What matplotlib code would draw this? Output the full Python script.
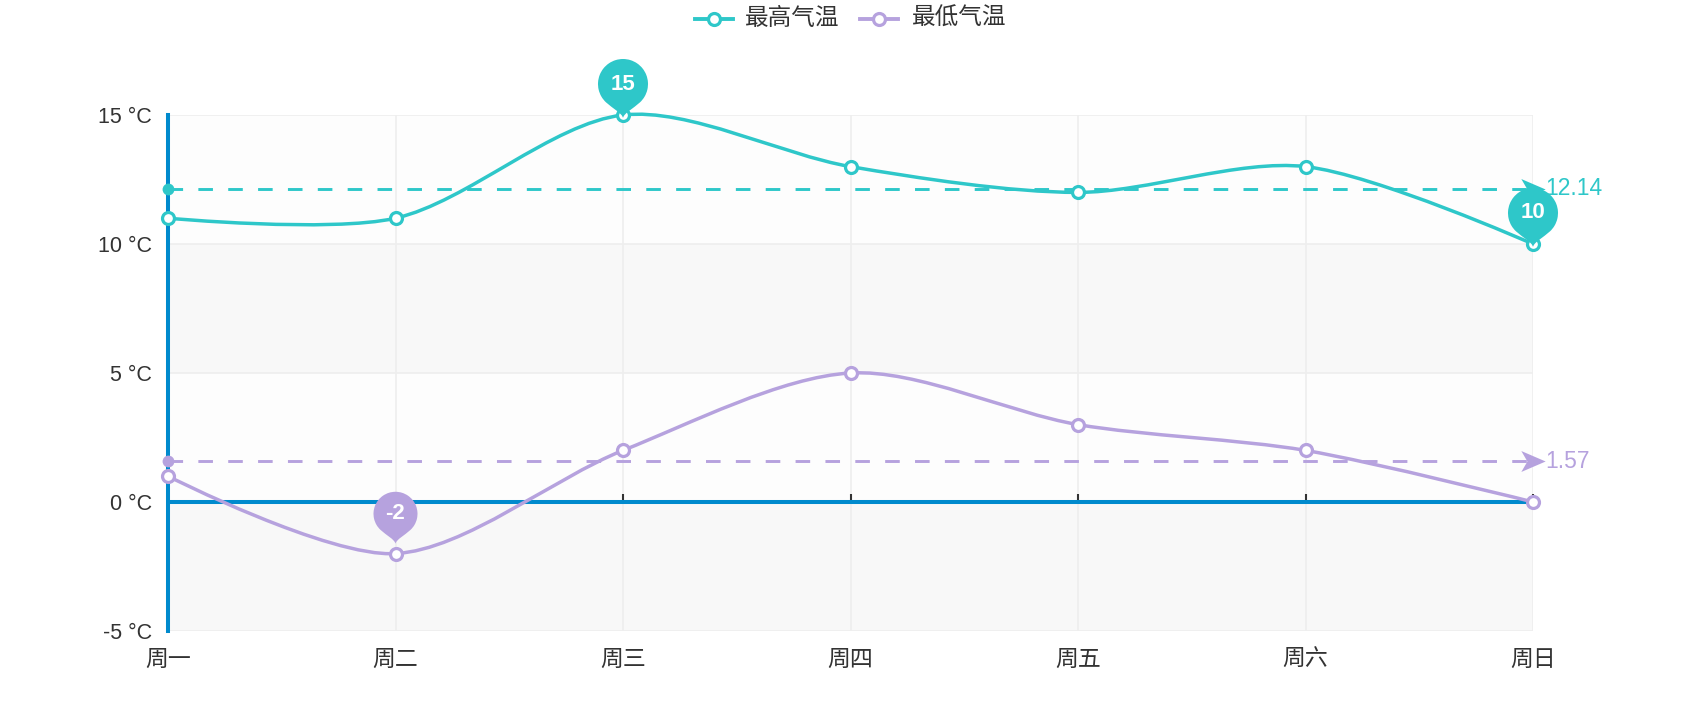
import numpy as np
import matplotlib
matplotlib.use('Agg')
import matplotlib.pyplot as plt
from matplotlib.path import Path
from matplotlib.patches import PathPatch
import matplotlib.lines as mlines

plt.rcParams['font.family'] = ['Liberation Sans', 'Noto Sans CJK SC', 'DejaVu Sans']
plt.rcParams['lines.scale_dashes'] = False

# ---------------- data ----------------
days = ['周一', '周二', '周三', '周四', '周五', '周六', '周日']
series_names = ['最高气温', '最低气温']
high_temp = [11, 11, 15, 13, 12, 13, 10]
low_temp = [1, -2, 2, 5, 3, 2, 0]
y_ticks = [-5, 0, 5, 10, 15]
y_tick_labels = ['-5 °C', '0 °C', '5 °C', '10 °C', '15 °C']
# custom mark point of the low series: (category index, anchor y, shown value)
low_pin = (1, -1.5, -2)

TEAL = '#2ec7c9'
PURPLE = '#b6a2de'
AXIS = '#008acd'
TXT = '#333333'
GRID = '#eeeeee'

W, H = 1686, 706
fig = plt.figure(figsize=(W / 100, H / 100), dpi=100)
ax = fig.add_axes([168 / W, 1 - 631 / H, (1533 - 168) / W, (631 - 115) / H])
x = np.arange(len(days))
ax.set_xlim(0, len(days) - 1)
ax.set_ylim(-5, 15)

# split areas
band_cols = ['#f8f8f8', '#fdfdfd']
for i in range(len(y_ticks) - 1):
    ax.axhspan(y_ticks[i], y_ticks[i + 1], color=band_cols[i % 2], lw=0, zorder=0)

# grid
for xi in x[1:]:
    ax.axvline(xi, color=GRID, lw=1.2, zorder=0.5)
for yv in y_ticks:
    if yv != 0:
        ax.axhline(yv, color=GRID, lw=1.2, zorder=0.5)

for s in ['top', 'right', 'bottom']:
    ax.spines[s].set_visible(False)
ax.spines['left'].set_color(AXIS)
ax.spines['left'].set_linewidth(2.9)
ax.spines['left'].set_zorder(2.6)

ax.axhline(0, color=AXIS, lw=2.9, zorder=2.5)
ax.plot(x[1:], np.zeros(len(x) - 1), ls='none', marker=mlines.TICKUP, ms=6,
        mew=1.5, color=TXT, zorder=2.4, clip_on=False)

ax.set_yticks(y_ticks)
ax.set_yticklabels(y_tick_labels)
ax.set_xticks(x)
ax.set_xticklabels(days)
ax.tick_params(axis='y', length=0, pad=11.5, labelsize=15.5, labelcolor=TXT)
ax.tick_params(axis='x', length=0, pad=12, labelsize=16.5, labelcolor=TXT)


def smooth_curve(xs, ys, smooth=0.3):
    pts = ax.transData.transform(np.column_stack([xs, ys]).astype(float))
    n = len(pts)
    cps = []
    for i in range(n):
        p = pts[i]
        if i == 0 or i == n - 1:
            cps.append(p.copy())
            continue
        prev, nxt = pts[i - 1], pts[i + 1]
        v = (nxt - prev) * smooth
        d0 = np.hypot(*(p - prev))
        d1 = np.hypot(*(p - nxt))
        ssum = d0 + d1
        d0 /= ssum
        d1 /= ssum
        cps.append(p - v * d0)
        cps.append(p + v * d1)
    verts = [pts[0]]
    codes = [Path.MOVETO]
    for i in range(n - 1):
        verts += [cps[2 * i], cps[2 * i + 1], pts[i + 1]]
        codes += [Path.CURVE4] * 3
    verts = ax.transData.inverted().transform(np.array(verts))
    return Path(verts, codes)


def pin_path(xd, yd, r, d, shift):
    tx, ty = ax.transData.transform((xd, yd))
    ty -= shift
    cx, cy = tx, ty + d
    dy = r * r / d
    dx = np.sqrt(r * r - dy * dy)
    ang = np.arcsin(dy / r)
    tanX, tanY = np.sin(ang), np.cos(ang)
    cpl, cpl2 = r * 0.35, r * 0.2
    arc = Path.arc(-np.degrees(ang), 180 + np.degrees(ang))
    av = arc.vertices * r + np.array([cx, cy])
    ac = list(arc.codes)
    left = np.array([cx - dx, cy - dy])
    right = np.array([cx + dx, cy - dy])
    verts = list(av) + [
        [left[0] + tanX * cpl, left[1] - tanY * cpl], [tx - 1.0, ty + cpl2], [tx, ty],
        [tx + 1.0, ty + cpl2], [right[0] - tanX * cpl, right[1] - tanY * cpl], right,
        right]
    codes = ac + [Path.CURVE4] * 6 + [Path.CLOSEPOLY]
    verts = ax.transData.inverted().transform(np.array(verts))
    center = ax.transData.inverted().transform((cx, cy))
    return Path(verts, codes), center


arrow_marker = Path([(0.5, 0), (-0.5, -0.43), (-0.25, 0), (-0.5, 0.43), (0.5, 0)],
                    [Path.MOVETO, Path.LINETO, Path.LINETO, Path.LINETO, Path.CLOSEPOLY])

for vals, col in [(high_temp, TEAL), (low_temp, PURPLE)]:
    # smooth series line
    ax.add_patch(PathPatch(smooth_curve(x, vals), fill=False, edgecolor=col, lw=2.5,
                           zorder=3, clip_on=False, capstyle='round', joinstyle='round'))
    # average mark line
    avg = float(np.mean(vals))
    ax.plot([x[0], x[-1]], [avg, avg], color=col, lw=2.1, dashes=(10.5, 11),
            zorder=2.8, clip_on=False)
    ax.plot([x[0]], [avg], 'o', ms=8.5, color=col, mew=0, zorder=2.9, clip_on=False)
    ax.plot([x[-1]], [avg], ls='none', marker=arrow_marker, ms=17.5, color=col, mew=0,
            zorder=2.9, clip_on=False)
    ax.annotate(f'{avg:.2f}', (x[-1], avg), xytext=(8.6, 0), textcoords='offset points',
                va='center', ha='left', color=col, fontsize=16.5, zorder=2.9,
                annotation_clip=False)
    # data points
    ax.plot(x, vals, ls='none', marker='o', ms=8.6, mfc='white', mec=col, mew=2.3,
            zorder=4, clip_on=False)

# mark points (pins)
pins = [
    (int(np.argmax(high_temp)), max(high_temp), max(high_temp), TEAL, 1.0),
    (int(np.argmin(high_temp)), min(high_temp), min(high_temp), TEAL, 1.0),
    (low_pin[0], low_pin[1], low_pin[2], PURPLE, 0.88),
]
for xi, ya, val, col, sc in pins:
    p, c = pin_path(xi, ya, 25 * sc, 34 * sc, 3)
    ax.add_patch(PathPatch(p, facecolor=col, edgecolor='none', zorder=6, clip_on=False))
    ax.text(c[0], c[1], str(val), color='white', fontsize=16, fontweight='bold',
            ha='center', va='center', zorder=7, clip_on=False)

# legend
def fx(px):
    return px / W


def fy(py):
    return 1 - py / H


ly = 19
for (x0, x1, tx), name, col in zip([(695, 733, 745), (860, 898, 912)], series_names,
                                    [TEAL, PURPLE]):
    fig.add_artist(mlines.Line2D([fx(x0), fx(x1)], [fy(ly), fy(ly)], color=col, lw=2.8,
                                 transform=fig.transFigure))
    fig.add_artist(mlines.Line2D([fx((x0 + x1) / 2)], [fy(ly)], ls='none', marker='o',
                                 ms=8.6, mfc='white', mec=col, mew=2.3,
                                 transform=fig.transFigure))
    fig.text(fx(tx), fy(ly), name, color=TXT, fontsize=17, ha='left', va='center')

fig.savefig('out.png', dpi=100)
